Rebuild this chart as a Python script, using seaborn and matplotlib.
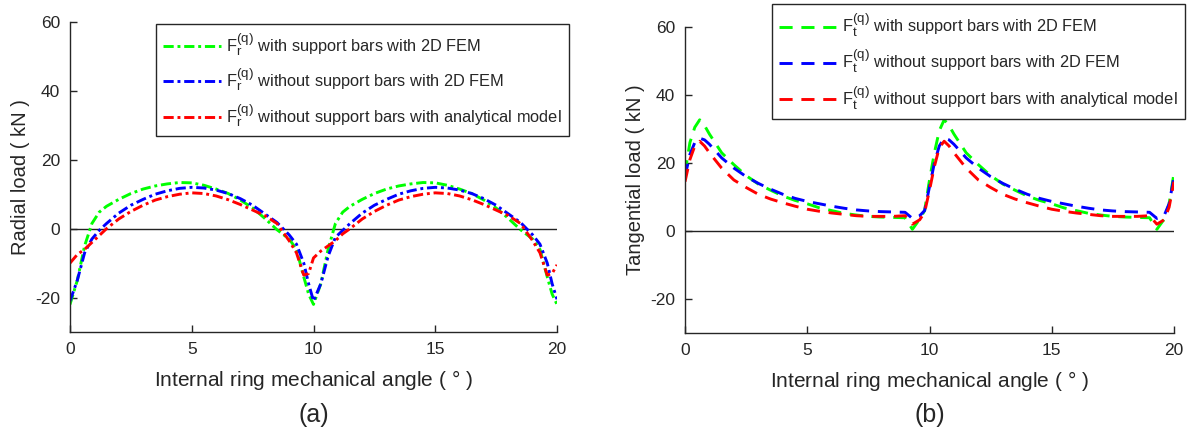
import numpy as np
import pandas as pd
import matplotlib
matplotlib.use("Agg")
import matplotlib.pyplot as plt
import seaborn as sns

try:
    import matplotlib._mathtext as _mt
    _mt.SHRINK_FACTOR = 0.82
except Exception:
    pass

# ---------------- data ----------------
angle_a = [0, 0.3, 0.6, 0.9, 1.2, 1.5, 2, 2.5, 3, 3.5, 4, 4.5, 5, 5.5, 6, 6.5, 7, 7.5, 8, 8.5,
           9, 9.3, 9.6, 9.8, 10, 10.3, 10.6, 10.9, 11.2, 11.5, 12, 12.5, 13, 13.5, 14, 14.5,
           15, 15.5, 16, 16.5, 17, 17.5, 18, 18.5, 19, 19.3, 19.6, 19.8, 20]
fr_with_fem = [-22, -15, -5, 1.5, 4.8, 6.5, 8.5, 10.2, 11.5, 12.4, 13, 13.4, 13.3, 12.6, 11.5, 10.2,
               8.3, 6, 3, -0.3, -3, -6, -14, -19, -22,
               -16, -6, 1.5, 4.8, 6.5, 8.5, 10.2, 11.5, 12.4, 13, 13.4, 13.3, 12.6, 11.5, 10.2,
               8.3, 6, 3, -0.3, -3, -6, -14, -19, -22]
fr_without_fem = [-21, -15, -7, -3, -0.5, 1.5, 4.5, 6.8, 8.5, 10, 11, 11.7, 12, 11.8, 11.2, 10.2,
                  8.7, 6.8, 4.3, 1.8, -1.8, -4.5, -10, -16, -21,
                  -16, -8, -2.5, -0.5, 1.5, 4.5, 6.8, 8.5, 10, 11, 11.7, 12, 11.8, 11.2, 10.2,
                  8.7, 6.8, 4.3, 1.8, -1.8, -4.5, -10, -16, -20.5]
fr_without_ana = [-10, -7.5, -6, -4, -2, 0, 2.8, 5, 6.8, 8.3, 9.3, 10, 10.4, 10.2, 9.5, 8.4,
                  7, 5.4, 3.8, 1.5, -3.5, -7, -13.5, -13, -8.5,
                  -6.5, -5, -3.5, -1.5, 0, 2.8, 5, 6.8, 8.3, 9.3, 10, 10.4, 10.2, 9.5, 8.4,
                  7, 5.4, 3.8, 1.5, -3.5, -7, -13.5, -13, -10.5]

angle_b = [0, 0.2, 0.4, 0.6, 0.8, 1, 1.5, 2, 2.5, 3, 3.5, 4, 4.5, 5, 5.5, 6, 6.5, 7, 7.5, 8,
           8.5, 9, 9.3, 9.6, 9.8, 10, 10.2, 10.4, 10.6, 10.8, 11, 11.5, 12, 12.5, 13, 13.5,
           14, 14.5, 15, 15.5, 16, 16.5, 17, 17.5, 18, 18.5, 19, 19.3, 19.6, 19.8, 20]
ft_with_fem = [17, 26, 30.5, 32.7, 31, 28.5, 23, 19.5, 16.3, 13.8, 12, 10.3, 9, 8, 6.8, 6, 5.2,
               4.7, 4.3, 4.1, 4, 3.9, 0.5, 3.5, 6, 15,
               23, 29.5, 32.7, 31, 28.5, 23, 19.5, 16.3, 13.8, 12, 10.3, 9, 8, 6.8, 6, 5.2,
               4.7, 4.3, 4.1, 4, 3.9, 0.5, 3.5, 8, 17]
ft_without_fem = [16, 22.5, 26, 27.3, 26.8, 25.5, 21.5, 18.5, 16, 14, 12.3, 10.8, 9.6, 8.7, 8,
                  7.3, 6.7, 6.2, 5.9, 5.7, 5.6, 5.5, 3.7, 4.5, 6, 13,
                  20, 25, 27.3, 26.8, 25.5, 21.5, 18.5, 16, 14, 12.3, 10.8, 9.6, 8.7, 8,
                  7.3, 6.7, 6.2, 5.9, 5.7, 5.6, 5.5, 3.7, 4.6, 8, 16]
ft_without_ana = [14.5, 21, 25, 26.4, 25, 23, 18.5, 15, 12.8, 10.8, 9.4, 8.3, 7.3, 6.4, 5.8,
                  5.3, 4.9, 4.5, 4.3, 4.3, 4.3, 4.5, 2, 3.3, 5.5, 12,
                  19, 24.5, 26.4, 25, 23, 18.5, 15, 12.8, 10.8, 9.4, 8.3, 7.3, 6.4, 5.8,
                  5.3, 4.9, 4.5, 4.3, 4.3, 4.3, 4.5, 2, 3.3, 7, 14.5]

labels_a = [r"$\mathregular{F_r^{(q)}}$ with support bars with 2D FEM",
            r"$\mathregular{F_r^{(q)}}$ without support bars with 2D FEM",
            r"$\mathregular{F_r^{(q)}}$ without support bars with analytical model"]
labels_b = [r"$\mathregular{F_t^{(q)}}$ with support bars with 2D FEM",
            r"$\mathregular{F_t^{(q)}}$ without support bars with 2D FEM",
            r"$\mathregular{F_t^{(q)}}$ without support bars with analytical model"]
colors = ["#00ff00", "#0000ff", "#ff0000"]
xticks = [0, 5, 10, 15, 20]
yticks = [-20, 0, 20, 40, 60]

# ---------------- style ----------------
sns.set_style("ticks")
plt.rcParams["font.family"] = ["Liberation Sans", "DejaVu Sans"]
plt.rcParams["mathtext.fontset"] = "custom"
plt.rcParams["mathtext.rm"] = "Liberation Sans"
plt.rcParams["mathtext.it"] = "Liberation Sans:italic"
plt.rcParams["axes.unicode_minus"] = False
txt = "#262626"

fig = plt.figure(figsize=(11.9, 4.34), dpi=100)
ax_a = fig.add_axes([70 / 1190, 1 - 332 / 434, 487 / 1190, 310 / 434])
ax_b = fig.add_axes([685 / 1190, 1 - 333 / 434, 489 / 1190, 306 / 434])

dashdot = (0, (3.5, 1.3, 1.0, 1.3))
dashed = (0, (4.5, 3.0))

for ys, c, lab in zip([fr_with_fem, fr_without_fem, fr_without_ana], colors, labels_a):
    sns.lineplot(x=angle_a, y=ys, ax=ax_a, color=c, linewidth=2.1, linestyle=dashdot,
                 label=lab, sort=False)
for ys, c, lab in zip([ft_with_fem, ft_without_fem, ft_without_ana], colors, labels_b):
    sns.lineplot(x=angle_b, y=ys, ax=ax_b, color=c, linewidth=2.1, linestyle=dashed,
                 label=lab, sort=False)

legend_pos = [(156 / 1190, 1 - 24 / 434), (772 / 1190, 1 - 4 / 434)]
ylabels = ["Radial load ( kN )", "Tangential load ( kN )"]
captions = ["(a)", "(b)"]
for ax, pos, ylab, cap in zip([ax_a, ax_b], legend_pos, ylabels, captions):
    ax.plot([0, 20], [0, 0], color="#222222", linewidth=1.0, zorder=1)
    ax.set_xlim(0, 20)
    ax.set_ylim(-30, 60)
    ax.set_xticks(xticks)
    ax.set_yticks(yticks)
    ax.tick_params(direction="in", length=5, width=1, labelsize=12.5, colors=txt,
                   pad=7)
    for s in ["top", "right"]:
        ax.spines[s].set_visible(False)
    for s in ["left", "bottom"]:
        ax.spines[s].set_color(txt)
        ax.spines[s].set_linewidth(1.0)
    ax.set_xlabel("Internal ring mechanical angle ( $\\mathregular{\\degree}$ )",
                  fontsize=15, color=txt, labelpad=8)
    ax.set_ylabel(ylab, fontsize=14.5, color=txt, labelpad=4)
    leg = ax.legend(loc="upper left", bbox_to_anchor=pos, bbox_transform=fig.transFigure,
                    fontsize=11.8, frameon=True, fancybox=False, framealpha=1,
                    edgecolor="#262626", borderaxespad=0, handlelength=3.5,
                    labelspacing=0.55, handletextpad=0.3, borderpad=0.45)
    leg.get_frame().set_linewidth(1.0)
    for t in leg.get_texts():
        t.set_color(txt)
    bb = ax.get_position()
    fig.text((bb.x0 + bb.x1) / 2, 1 - 415 / 434, cap,
             ha="center", va="center", fontsize=18, color=txt)

fig.savefig("out.png", dpi=100)
